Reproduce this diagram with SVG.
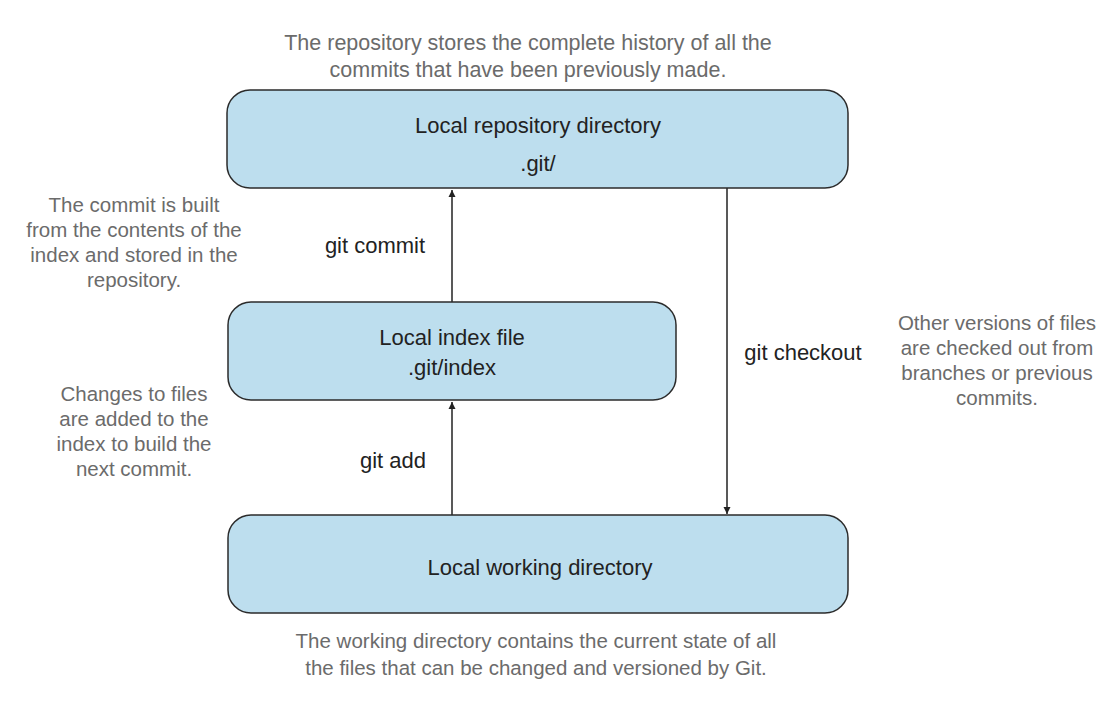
<svg xmlns="http://www.w3.org/2000/svg" width="1117" height="708" viewBox="0 0 1117 708">
<defs>
<style>
.box{fill:#bddeee;stroke:#2b2b2b;stroke-width:1.5}
.lbl{font-family:"Liberation Sans",Arial,sans-serif;font-size:22px;fill:#222;text-anchor:middle}
.note{font-family:"Liberation Sans",Arial,sans-serif;font-size:20.5px;fill:#6b6b6b;text-anchor:middle}
.edge{stroke:#222;stroke-width:1.5;fill:none;marker-end:url(#ah)}
</style>
<marker id="ah" viewBox="0 0 10 10" refX="10" refY="5" markerWidth="7" markerHeight="9" markerUnits="userSpaceOnUse" orient="auto">
<path d="M0,0 L10,5 L0,10 z" fill="#222"/>
</marker>
</defs>
<rect width="1117" height="708" fill="#fff"/>
<g id="connectors">
<line class="edge" x1="452" y1="302" x2="452" y2="190"/>
<line class="edge" x1="452" y1="515" x2="452" y2="402"/>
<line class="edge" x1="727" y1="188" x2="727" y2="514"/>
<text class="lbl" x="375" y="253">git commit</text>
<text class="lbl" x="393" y="468">git add</text>
<text class="lbl" x="803" y="360">git checkout</text>
</g>
<g id="repo">
<rect class="box" x="227" y="90" width="621" height="98" rx="23"/>
<text class="lbl" x="538" y="133">Local repository directory</text>
<text class="lbl" x="538" y="171">.git/</text>
</g>
<g id="index">
<rect class="box" x="228" y="302" width="448" height="98" rx="23"/>
<text class="lbl" x="452" y="345">Local index file</text>
<text class="lbl" x="452" y="375">.git/index</text>
</g>
<g id="working">
<rect class="box" x="228" y="515" width="620" height="98" rx="23"/>
<text class="lbl" x="540" y="575">Local working directory</text>
</g>
<g id="notes">
<text class="note" x="528" y="50" style="font-size:21.5px">The repository stores the complete history of all the</text>
<text class="note" x="528" y="77" style="font-size:21.5px">commits that have been previously made.</text>
<text class="note" x="134" y="212">The commit is built</text>
<text class="note" x="134" y="237">from the contents of the</text>
<text class="note" x="134" y="262">index and stored in the</text>
<text class="note" x="134" y="287">repository.</text>
<text class="note" x="134" y="401">Changes to files</text>
<text class="note" x="134" y="426">are added to the</text>
<text class="note" x="134" y="451">index to build the</text>
<text class="note" x="134" y="476">next commit.</text>
<text class="note" x="997" y="330">Other versions of files</text>
<text class="note" x="997" y="355">are checked out from</text>
<text class="note" x="997" y="380">branches or previous</text>
<text class="note" x="997" y="405">commits.</text>
<text class="note" x="536" y="648">The working directory contains the current state of all</text>
<text class="note" x="536" y="675">the files that can be changed and versioned by Git.</text>
</g>
</svg>
